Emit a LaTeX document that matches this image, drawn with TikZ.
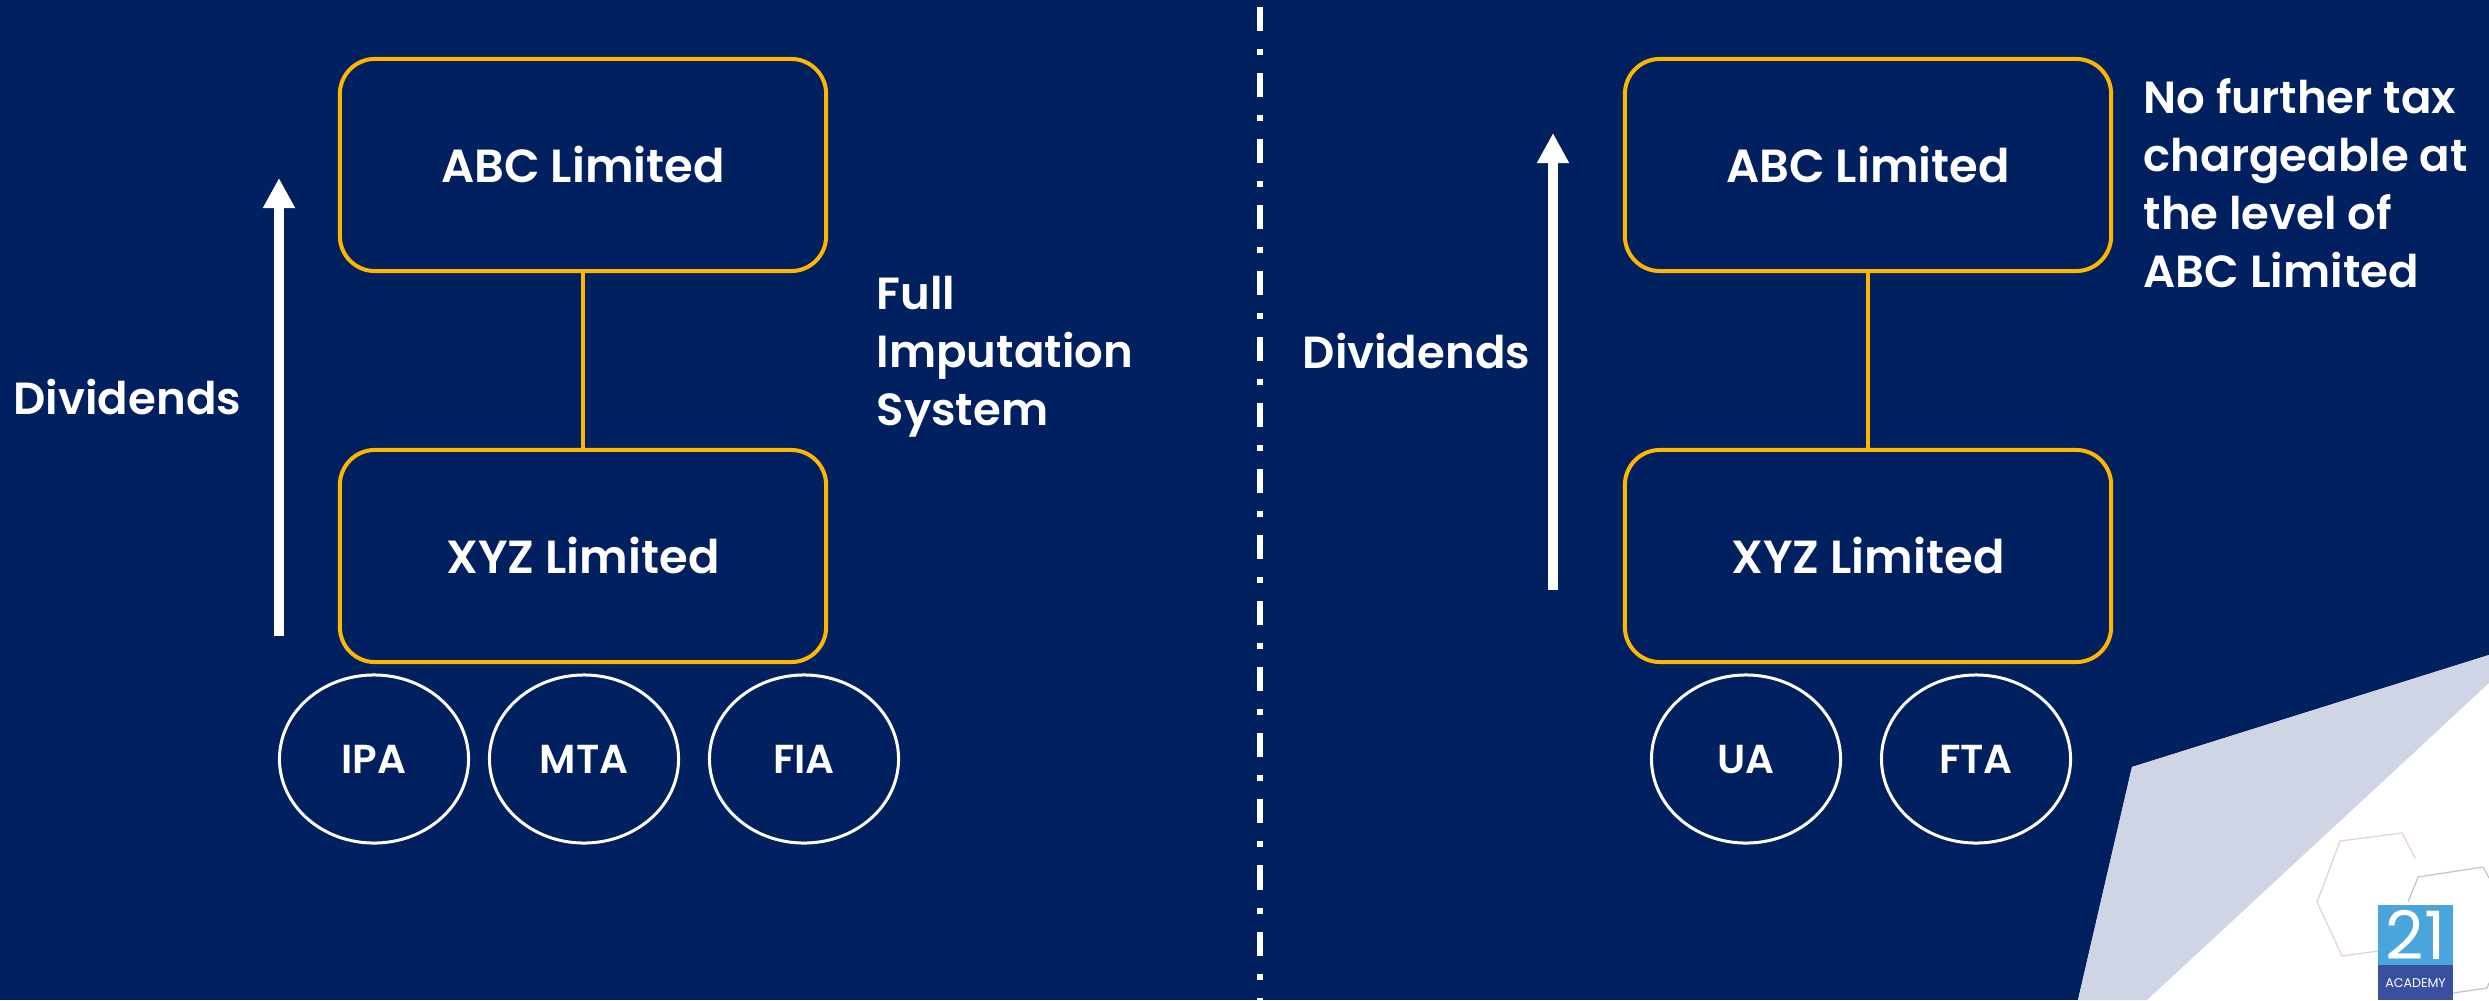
\documentclass[tikz,border=0pt]{standalone}
\usepackage{fontspec}
\setmainfont{Poppins}[BoldFont={Poppins SemiBold}]
\usetikzlibrary{arrows.meta,shapes.geometric}
\definecolor{navy}{HTML}{00205F}
\definecolor{gold}{HTML}{FFB600}
\definecolor{pale}{HTML}{D0D5E5}
\definecolor{logosky}{HTML}{4AA5DD}
\definecolor{logodeep}{HTML}{3A4FA0}
\definecolor{hexpink}{HTML}{E8CFCF}
\definecolor{hexgrey}{HTML}{C4C4C8}
\tikzset{x=0.01cm,y=-0.01cm,
 box/.style={draw=gold,line width=0.04cm,rounded corners=0.35cm,minimum width=4.86cm,minimum height=2.12cm,inner sep=0pt,text=white,font=\fontsize{13.2}{15}\selectfont\bfseries},
 oval/.style={draw=white,line width=0.03cm,ellipse,minimum width=1.89cm,minimum height=1.68cm,inner sep=0pt,text=white,font=\fontsize{11.5}{13}\selectfont\bfseries},
 link/.style={draw=gold,line width=0.035cm},
 upflow/.style={draw=white,line width=0.1cm,-{Triangle[width=0.3cm,length=0.3cm]}},
 lbl/.style={text=white,inner sep=0pt,font=\fontsize{12.8}{16.5}\selectfont\bfseries,align=left},
 divider/.style={draw=white,line width=0.06cm,dash pattern=on 0.24cm off 0.18cm on 0.06cm off 0.18cm}
}
\begin{document}
\begin{tikzpicture}
\useasboundingbox (0,0) rectangle (2489,1000);
\fill[navy] (0,0) rectangle (2489,1000);
\fill[white] (2489,655) -- (2132,767) -- (2078,1000) -- (2489,1000) -- cycle;
\fill[pale] (2489,655) -- (2132,767) -- (2078,1000) -- (2147,1000) -- (2489,683) -- cycle;
% logo
\draw[draw=hexpink,line width=0.012cm] (2415,858) -- (2402,833) -- (2340,841) -- (2317,902) -- (2342,956) -- (2378,951);
\draw[draw=hexgrey,line width=0.012cm] (2408,902) -- (2418,877) -- (2483,867) -- (2489,878);
\draw[draw=hexgrey,line width=0.012cm] (2453,993) -- (2487,988) -- (2489,983);
\fill[logosky] (2378,905) rectangle (2453,966);
\fill[logodeep] (2378,965) rectangle (2453,1000);
\node[inner sep=0pt,text=white] (logoa) at (2415.5,935) {\fontsize{19}{19}\selectfont 21};
\node[inner sep=0pt,text=white] (logob) at (2415.5,983) {\fontsize{3.6}{4}\selectfont ACADEMY};
% divider
\path[divider] (1260,7) -- (1260,1000);
% left
\node[box] (abc1) at (583,165) {ABC Limited};
\node[box] (xyz1) at (583,556) {XYZ Limited};
\draw[link] (abc1) -- (xyz1);
\node[oval] (ipa) at (374,759) {\raisebox{-0.03cm}{IPA}};
\node[oval] (mta) at (584,759) {\raisebox{-0.03cm}{MTA}};
\node[oval] (fia) at (804,759) {\raisebox{-0.03cm}{FIA}};
\coordinate (a1s) at (279,636);
\coordinate (a1e) at (279,178);
\draw[upflow] (a1s) -- (a1e);
\node[lbl,anchor=west] (div1) at (13,397) {Dividends};
\node[lbl,anchor=north west] (full) at (876,275) {Full\\Imputation\\System};
% right
\node[box] (abc2) at (1868,165) {ABC Limited};
\node[box] (xyz2) at (1868,556) {XYZ Limited};
\draw[link] (abc2) -- (xyz2);
\node[oval] (ua) at (1746,759) {\raisebox{-0.03cm}{UA}};
\node[oval] (fta) at (1976,759) {\raisebox{-0.03cm}{FTA}};
\coordinate (a2s) at (1553,590);
\coordinate (a2e) at (1553,133);
\draw[upflow] (a2s) -- (a2e);
\node[lbl,anchor=west] (div2) at (1302,351) {Dividends};
\node[lbl,anchor=north west] (nofurther) at (2143,78) {No further tax\\chargeable at\\the level of\\ABC Limited};
\end{tikzpicture}
\end{document}
